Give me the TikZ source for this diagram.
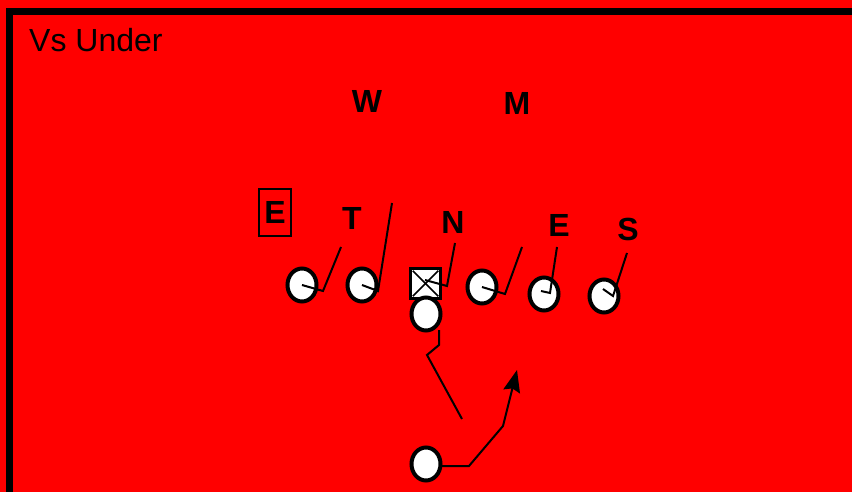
\documentclass[tikz,border=0pt]{standalone}
\usepackage{fontspec}
\setmainfont{Liberation Sans}
\usetikzlibrary{shapes.geometric,arrows.meta}
\definecolor{fieldred}{RGB}{255,0,0}
\tikzset{
  player/.style={ellipse,draw=black,fill=white,line width=4pt,minimum width=29pt,minimum height=33pt,inner sep=0pt},
  centerbox/.style={rectangle,draw=black,fill=white,line width=3.5pt,minimum width=30pt,minimum height=30pt,inner sep=0pt},
  deflabel/.style={font=\fontsize{32}{36}\selectfont\bfseries,inner sep=0pt},
  blockline/.style={line width=2pt,line join=miter},
  routeline/.style={line width=2pt,line join=miter},
}
\begin{document}
\begin{tikzpicture}[x=1pt,y=-1pt]
\useasboundingbox (0,0) rectangle (852,492);
\begin{scope}
\clip (0,0) rectangle (852,492);
\fill[fieldred] (0,0) rectangle (852,492);
\draw[line width=7pt] (9.5,510) |- (870,11.5);
\end{scope}
\node[anchor=base west,inner sep=0pt,font=\fontsize{32}{38}\selectfont] (title) at (29,52) {Vs Under};

% defenders
\node[deflabel] (W) at (367,101) {W};
\node[deflabel] (M) at (517,103) {M};
\node[deflabel,draw,line width=1.5pt,minimum width=32pt,minimum height=47pt] (Ebox) at (275,212.5) {E};
\node[deflabel] (T) at (352,218) {T};
\node[deflabel] (N) at (453,222) {N};
\node[deflabel] (E2) at (559,225) {E};
\node[deflabel] (S) at (628,229) {S};

% offense
\node[player] (p1) at (302,285) {};
\node[player] (p2) at (362,285) {};
\node[centerbox] (c) at (425.5,283.5) {};
\draw[line width=1.5pt] (c.north west) ++(4,4) coordinate (x1) -- ([shift={(-4,-4)}]c.south east) coordinate (x2);
\draw[line width=1.5pt] (c.north east) ++(-4,4) coordinate (x3) -- ([shift={(4,-4)}]c.south west) coordinate (x4);
\node[player] (qb) at (426,314) {};
\node[player] (p4) at (482,287) {};
\node[player] (p5) at (544,294) {};
\node[player] (p6) at (604,296) {};
\node[player] (rb) at (426,464) {};

% blocking lines
\coordinate (b1a) at (323,291); \coordinate (b1b) at (341,247);
\draw[blockline] (p1.center) -- (b1a) -- (b1b);
\coordinate (b2a) at (378,291); \coordinate (b2b) at (392,203);
\draw[blockline] (p2.center) -- (b2a) -- (b2b);
\coordinate (b3s) at (425,280); \coordinate (b3a) at (447,286); \coordinate (b3b) at (455,243);
\draw[blockline] (b3s) -- (b3a) -- (b3b);
\coordinate (b4a) at (505,294); \coordinate (b4b) at (522,247);
\draw[blockline] (p4.center) -- (b4a) -- (b4b);
\coordinate (b5a) at (550,293); \coordinate (b5b) at (557,247);
\draw[blockline] (p5.center) ++(-3,-3) -- (b5a) -- (b5b);
\coordinate (b6a) at (613,296); \coordinate (b6b) at (627,253);
\draw[blockline] (p6.center) ++(-1,-7) -- (b6a) -- (b6b);

% QB path
\coordinate (q0) at (439,330); \coordinate (q1) at (439,345); \coordinate (q2) at (427,355); \coordinate (q3) at (462,419);
\draw[routeline] (q0) -- (q1) -- (q2) -- (q3);

% RB route
\coordinate (r0) at (441,466); \coordinate (r1) at (469,466); \coordinate (r2) at (503,426); \coordinate (r3) at (517,370);
\draw[routeline,-{Stealth[length=22pt,width=17pt,inset=3pt]}] (r0) -- (r1) -- (r2) -- (r3);
\end{tikzpicture}
\end{document}
